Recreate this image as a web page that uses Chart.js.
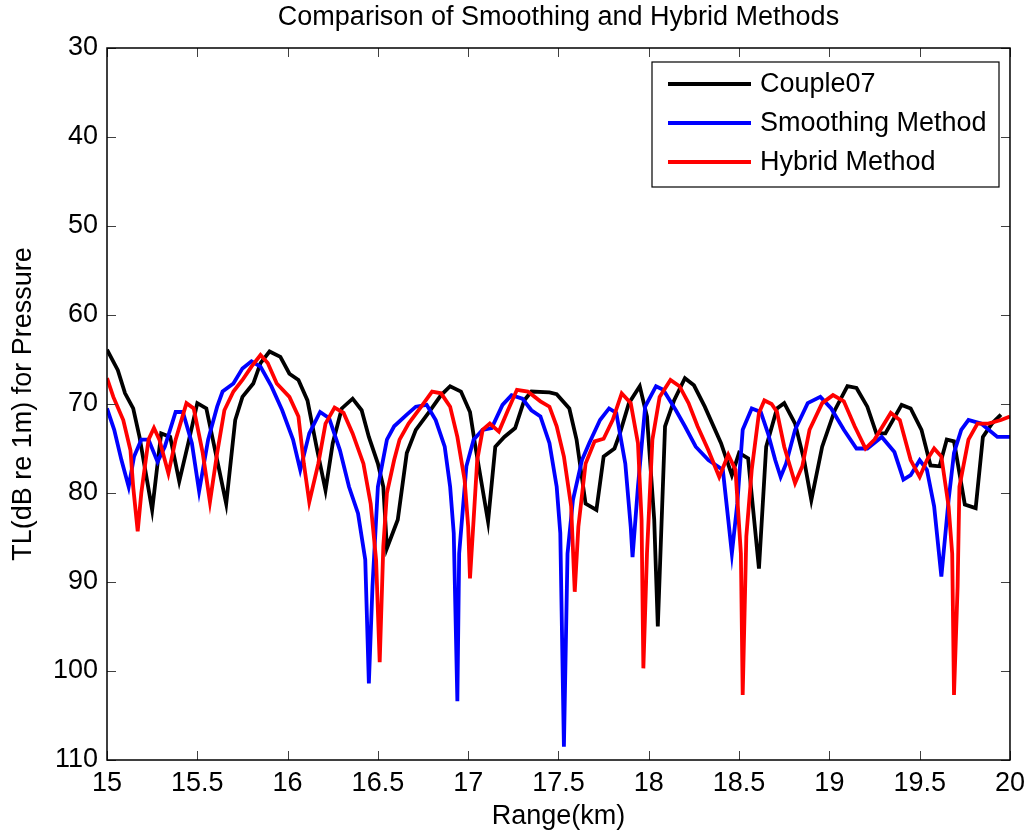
<!DOCTYPE html>
<html>
<head>
<meta charset="utf-8">
<title>Comparison of Smoothing and Hybrid Methods</title>
<script src="https://cdn.jsdelivr.net/npm/chart.js@4.4.1/dist/chart.umd.min.js"></script>
<style>
    html, body { margin: 0; padding: 0; background: #fff; }
    #wrap { width: 1032px; height: 836px; }
</style>
</head>
<body>
<div id="wrap"><canvas id="chart" width="1032" height="836"></canvas></div>
<script>
// values (range in km, TL in dB)
const couple07Range = [15.00, 15.06, 15.10, 15.145, 15.18, 15.25, 15.28, 15.30, 15.35, 15.40, 15.45, 15.50, 15.55, 15.61, 15.66,
    15.71, 15.75, 15.81, 15.85, 15.90, 15.96, 16.01, 16.06, 16.11, 16.16, 16.21, 16.25, 16.30, 16.36, 16.41, 16.45, 16.50, 16.53,
    16.55, 16.61, 16.66, 16.71, 16.78, 16.85, 16.90, 16.96, 17.01, 17.04, 17.11, 17.15, 17.20, 17.26, 17.31, 17.35, 17.45, 17.49,
    17.56, 17.60, 17.65, 17.71, 17.75, 17.81, 17.84, 17.89, 17.95, 17.99, 18.03, 18.05, 18.09, 18.14, 18.20, 18.25, 18.31, 18.40,
    18.46, 18.50, 18.55, 18.61, 18.65, 18.71, 18.75, 18.81, 18.86, 18.90, 18.96, 19.03, 19.10, 19.15, 19.21, 19.26, 19.31, 19.40,
    19.45, 19.51, 19.56, 19.61, 19.65, 19.69, 19.75, 19.81, 19.85, 19.90, 19.95];
const couple07TL = [63.9, 66.2, 68.8, 70.5, 73.7, 81.9, 76.7, 73.3, 73.7, 78.7, 74.4, 69.9, 70.5, 76.3, 81.2,
    71.8, 69.2, 67.7, 65.4, 64.1, 64.7, 66.6, 67.3, 69.6, 74.8, 79.7, 74.4, 70.5, 69.4, 70.7, 73.7, 76.7, 79.3,
    86.2, 83.0, 75.5, 72.9, 71.0, 69.0, 68.0, 68.6, 70.9, 74.8, 83.2, 74.8, 73.7, 72.7, 69.6, 68.6, 68.7, 68.9,
    70.5, 74.0, 81.2, 81.9, 75.9, 75.0, 73.3, 69.9, 68.0, 71.4, 83.0, 95.0, 72.5, 69.6, 67.1, 67.9, 70.3, 74.4,
    78.0, 75.5, 76.1, 88.5, 74.8, 70.5, 69.9, 72.2, 76.3, 80.8, 74.8, 70.7, 68.0, 68.2, 70.3, 73.3, 73.3, 70.1,
    70.5, 72.9, 76.9, 77.0, 74.0, 74.2, 81.3, 81.7, 73.7, 72.2, 71.2];

const smoothRange = [15.00, 15.04, 15.08, 15.12, 15.15, 15.19, 15.23, 15.28, 15.32, 15.38, 15.42, 15.47, 15.51, 15.56, 15.61,
    15.64, 15.70, 15.75, 15.80, 15.85, 15.91, 15.97, 16.03, 16.07, 16.12, 16.18, 16.23, 16.29, 16.34, 16.39, 16.43, 16.45, 16.47,
    16.50, 16.55, 16.59, 16.66, 16.71, 16.77, 16.82, 16.87, 16.90, 16.92, 16.94, 16.95, 16.99, 17.03, 17.08, 17.13, 17.19, 17.24,
    17.30, 17.35, 17.40, 17.45, 17.49, 17.51, 17.53, 17.55, 17.58, 17.63, 17.67, 17.73, 17.78, 17.82, 17.87, 17.90, 17.91, 17.94,
    17.98, 18.04, 18.08, 18.15, 18.20, 18.26, 18.33, 18.41, 18.44, 18.46, 18.49, 18.52, 18.57, 18.62, 18.66, 18.70, 18.73, 18.76,
    18.81, 18.88, 18.95, 19.01, 19.08, 19.15, 19.21, 19.29, 19.36, 19.41, 19.45, 19.50, 19.54, 19.58, 19.62, 19.66, 19.69, 19.73,
    19.77, 19.84, 19.93, 20.00];
const smoothTL = [70.5, 72.9, 76.3, 79.3, 75.9, 74.0, 74.0, 76.5, 74.8, 70.9, 70.9, 74.4, 79.8, 74.0, 70.3,
    68.6, 67.7, 66.0, 65.2, 65.8, 68.0, 70.7, 74.0, 77.4, 73.3, 70.9, 71.6, 75.2, 79.3, 82.3, 87.5, 101.4, 90.5,
    79.3, 74.0, 72.5, 71.2, 70.3, 70.1, 71.8, 74.8, 79.3, 84.5, 103.4, 86.8, 77.0, 74.0, 72.9, 72.7, 70.1, 69.0,
    69.4, 70.7, 71.4, 74.4, 79.3, 84.5, 108.5, 86.8, 80.8, 76.3, 74.4, 71.8, 70.5, 71.0, 76.7, 83.8, 87.2, 79.3,
    70.3, 68.0, 68.4, 70.7, 72.5, 74.8, 76.3, 77.4, 83.0, 86.8, 81.2, 72.9, 70.5, 70.9, 73.3, 76.3, 78.2, 76.7,
    72.9, 69.9, 69.2, 70.5, 72.9, 75.0, 75.0, 73.7, 75.4, 78.5, 78.0, 76.3, 77.4, 81.5, 89.4, 80.8, 75.5, 72.9,
    71.8, 72.2, 73.7, 73.7];

const hybridRange = [15.00, 15.035, 15.09, 15.13, 15.145, 15.17, 15.19, 15.23, 15.26, 15.29, 15.34, 15.38, 15.44, 15.48, 15.53,
    15.57, 15.61, 15.65, 15.70, 15.75, 15.80, 15.85, 15.89, 15.94, 16.01, 16.06, 16.09, 16.12, 16.17, 16.21, 16.26, 16.31, 16.36,
    16.42, 16.46, 16.49, 16.51, 16.53, 16.55, 16.59, 16.62, 16.67, 16.74, 16.80, 16.85, 16.90, 16.94, 16.98, 17.00, 17.01, 17.03,
    17.05, 17.08, 17.12, 17.17, 17.22, 17.27, 17.33, 17.40, 17.45, 17.49, 17.53, 17.57, 17.59, 17.61, 17.65, 17.70, 17.75, 17.80,
    17.85, 17.90, 17.94, 17.96, 17.97, 17.99, 18.02, 18.06, 18.12, 18.17, 18.22, 18.27, 18.33, 18.39, 18.44, 18.48, 18.51, 18.52,
    18.54, 18.57, 18.61, 18.64, 18.68, 18.71, 18.75, 18.81, 18.85, 18.89, 18.96, 19.02, 19.08, 19.14, 19.20, 19.25, 19.34, 19.39,
    19.45, 19.50, 19.54, 19.58, 19.62, 19.66, 19.68, 19.69, 19.71, 19.72, 19.77, 19.82, 19.88, 19.95, 20.00];
const hybridTL = [67.1, 69.2, 71.8, 75.2, 79.3, 84.3, 80.0, 74.0, 72.7, 74.0, 77.8, 74.0, 69.9, 70.5, 75.5,
    81.0, 75.5, 70.7, 68.6, 67.3, 65.8, 64.5, 65.4, 67.7, 69.2, 71.4, 76.7, 81.0, 76.7, 72.2, 70.4, 71.0, 73.3,
    76.7, 81.2, 87.5, 99.0, 86.0, 80.0, 76.3, 74.0, 72.2, 70.3, 68.6, 68.8, 70.3, 73.7, 78.5, 83.8, 89.6, 83.0,
    76.3, 72.9, 72.2, 73.1, 70.7, 68.4, 68.6, 69.7, 70.3, 72.5, 75.9, 81.5, 91.1, 83.8, 76.7, 74.2, 73.9, 71.8,
    68.8, 69.9, 74.4, 83.0, 99.7, 86.8, 74.0, 69.2, 67.3, 68.0, 69.9, 72.5, 75.2, 78.2, 75.7, 77.4, 86.8, 102.7,
    84.9, 77.4, 71.0, 69.6, 70.0, 70.9, 74.8, 78.9, 77.0, 72.9, 69.9, 69.0, 69.7, 72.5, 75.0, 74.0, 71.0, 71.8,
    76.3, 78.2, 76.3, 75.0, 75.9, 81.5, 86.8, 102.7, 90.5, 79.3, 74.0, 72.2, 72.2, 71.8, 71.4];

const seriesNames = ['Couple07', 'Smoothing Method', 'Hybrid Method'];
const seriesColors = ['#000000', '#0000ff', '#ff0000'];

function toPoints(xs, ys) {
    return xs.map((x, i) => ({ x: x, y: ys[i] }));
}

const FONT = "'Liberation Sans', Arial, sans-serif";
const FS = 27;
Chart.defaults.font.family = FONT;
Chart.defaults.color = '#000';

// frame + inward ticks on all four sides, like a matlab axes box
const boxPlugin = {
    id: 'box',
    afterDatasetsDraw(chart) {
        const ctx = chart.ctx;
        const a = chart.chartArea;
        const xs = chart.scales.x, ys = chart.scales.y;
        const len = 9;
        ctx.save();
        ctx.strokeStyle = '#404040';
        ctx.lineWidth = 1;
        ctx.beginPath();
        xs.ticks.forEach(t => {
            const px = Math.round(xs.getPixelForValue(t.value)) + 0.5;
            ctx.moveTo(px, a.bottom); ctx.lineTo(px, a.bottom - len);
            ctx.moveTo(px, a.top); ctx.lineTo(px, a.top + len);
        });
        ys.ticks.forEach(t => {
            const py = Math.round(ys.getPixelForValue(t.value)) + 0.5;
            ctx.moveTo(a.left, py); ctx.lineTo(a.left + len, py);
            ctx.moveTo(a.right, py); ctx.lineTo(a.right - len, py);
        });
        ctx.stroke();
        ctx.strokeStyle = '#000';
        ctx.lineWidth = 1.5;
        ctx.strokeRect(a.left, a.top, a.right - a.left, a.bottom - a.top);
        ctx.restore();
    }
};

// legend box in the upper right corner of the axes
const legendPlugin = {
    id: 'boxLegend',
    afterDraw(chart) {
        const ctx = chart.ctx;
        const left = 652, top = 62, w = 347, h = 125;
        ctx.save();
        ctx.fillStyle = '#fff';
        ctx.fillRect(left, top, w, h);
        ctx.strokeStyle = '#000';
        ctx.lineWidth = 1.2;
        ctx.strokeRect(left, top, w, h);
        ctx.font = FS + 'px ' + FONT;
        ctx.textBaseline = 'middle';
        chart.data.datasets.forEach((ds, i) => {
            const y = 84 + i * 39;
            ctx.strokeStyle = ds.borderColor;
            ctx.lineWidth = 3.8;
            ctx.beginPath();
            ctx.moveTo(668, y);
            ctx.lineTo(751, y);
            ctx.stroke();
            ctx.fillStyle = '#000';
            ctx.fillText(ds.label, 760, y + 1);
        });
        ctx.restore();
    }
};

window.onload = function() {
    const ctx = document.getElementById('chart').getContext('2d');
    const lists = [[couple07Range, couple07TL], [smoothRange, smoothTL], [hybridRange, hybridTL]];
    new Chart(ctx, {
        type: 'line',
        data: {
            datasets: lists.map((l, i) => ({
                label: seriesNames[i],
                data: toPoints(l[0], l[1]),
                borderColor: seriesColors[i],
                backgroundColor: seriesColors[i],
                borderWidth: 3.8,
                pointRadius: 0,
                tension: 0,
                fill: false,
                order: 3 - i
            }))
        },
        options: {
            responsive: false,
            animation: false,
            layout: { padding: { left: 0, right: 20, top: 0, bottom: 0 } },
            plugins: {
                legend: { display: false },
                tooltip: { enabled: false },
                title: {
                    display: true,
                    text: 'Comparison of Smoothing and Hybrid Methods',
                    fullSize: false,
                    color: '#000',
                    font: { size: FS, weight: 'normal', family: FONT, lineHeight: 1.2 },
                    padding: { top: 1, bottom: 14.6 }
                }
            },
            scales: {
                x: {
                    type: 'linear',
                    min: 15,
                    max: 20,
                    grid: { display: false, drawTicks: false },
                    border: { display: false },
                    ticks: {
                        stepSize: 0.5, padding: 7, color: '#000', font: { size: FS }, maxRotation: 0,
                        callback: v => String(v)
                    },
                    title: { display: true, text: 'Range(km)', color: '#000', font: { size: FS }, padding: { top: 0, bottom: 3 } },
                    afterFit: s => { s.height = 76; }
                },
                y: {
                    type: 'linear',
                    reverse: true,
                    min: 30,
                    max: 110,
                    grid: { display: false, drawTicks: false },
                    border: { display: false },
                    ticks: { stepSize: 10, padding: 9, color: '#000', font: { size: FS } },
                    title: { display: true, text: 'TL(dB re 1m) for Pressure', color: '#000', font: { size: FS }, padding: { top: 7, bottom: 0 } },
                    afterFit: s => { s.width = 107; }
                }
            }
        },
        plugins: [boxPlugin, legendPlugin]
    });
};
</script>
</body>
</html>
